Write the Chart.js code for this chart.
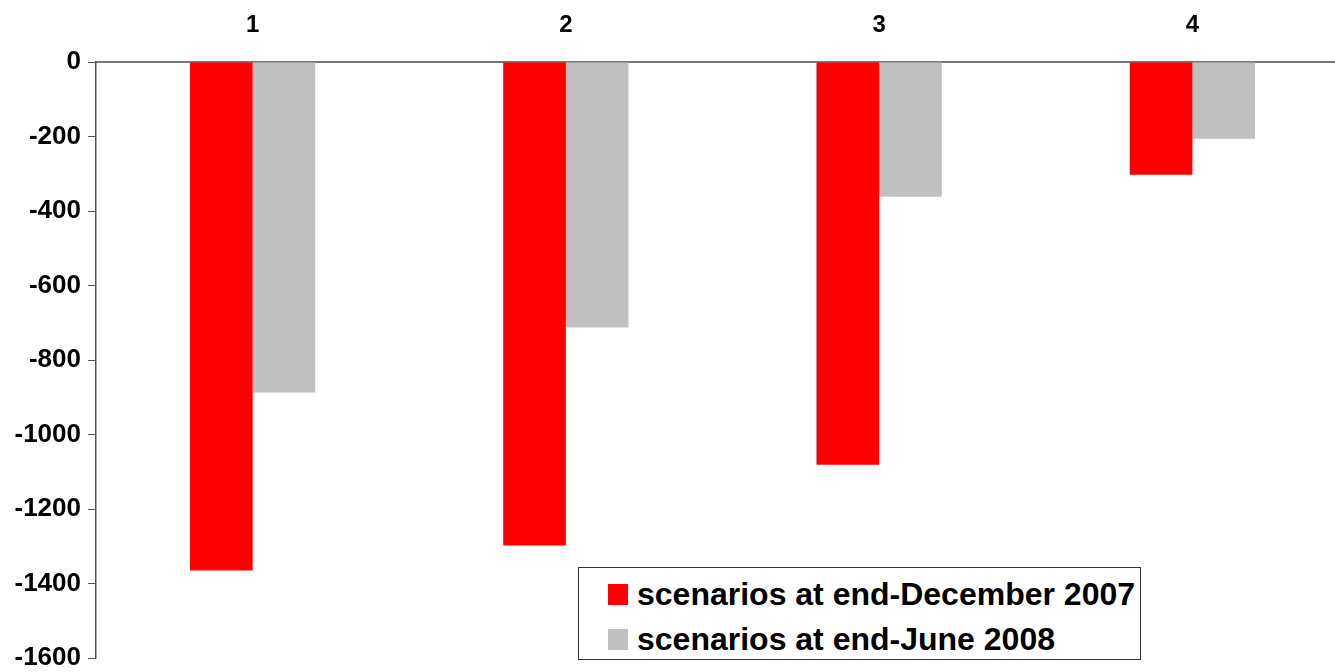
<!DOCTYPE html>
<html>
<head>
<meta charset="utf-8">
<script src="https://cdn.jsdelivr.net/npm/chart.js@4.4.1/dist/chart.umd.min.js"></script>
<style>
  html, body { margin: 0; padding: 0; background: #fff; overflow: hidden; }
  #wrap { position: relative; width: 1350px; height: 672px; }
  #legend {
    position: absolute; left: 578px; top: 567px; width: 561px; height: 91px;
    border: 1.5px solid #333; background: #fff; box-sizing: content-box;
    font-family: "Liberation Sans", Arial, sans-serif; font-weight: bold;
    font-size: 32px; color: #000;
  }
  #legend .item { position: absolute; left: 29px; height: 36px; display: flex; align-items: center; white-space: nowrap; }
  #legend .sw { width: 20px; height: 21px; margin-right: 9px; flex: none; }
</style>
</head>
<body>
<div id="wrap">
  <canvas id="c" width="1350" height="672"></canvas>
  <div id="legend"></div>
</div>
<script>
const categories = ["1", "2", "3", "4"];
const seriesNames = ["scenarios at end-December 2007", "scenarios at end-June 2008"];
const dec2007 = [-1365, -1298, -1081, -303];
const jun2008 = [-887, -713, -362, -206];
const yTicks = [0, -200, -400, -600, -800, -1000, -1200, -1400, -1600];
const seriesColors = ["#FF0000", "#C0C0C0"];

const font = { family: "'Liberation Sans', Arial, sans-serif", weight: "bold" };

const chart = new Chart(document.getElementById("c"), {
  type: "bar",
  data: {
    labels: categories,
    datasets: [
      { label: seriesNames[0], data: dec2007, backgroundColor: seriesColors[0] },
      { label: seriesNames[1], data: jun2008, backgroundColor: seriesColors[1] }
    ]
  },
  options: {
    responsive: false,
    animation: false,
    categoryPercentage: 0.4,
    barPercentage: 1.0,
    layout: { padding: { left: 0, right: 1, top: 0, bottom: 14 } },
    plugins: { legend: { display: false }, tooltip: { enabled: false } },
    scales: {
      x: {
        position: "top",
        grid: { display: false },
        border: { display: true, color: "#777", width: 2 },
        ticks: { color: "#000", font: { ...font, size: 24 }, padding: 14, maxRotation: 0 },
        afterFit: s => { s.height = 62; }
      },
      y: {
        min: Math.min(...yTicks),
        max: Math.max(...yTicks),
        afterBuildTicks: s => { s.ticks = yTicks.map(v => ({ value: v })); },
        grid: { display: true, drawOnChartArea: false, drawTicks: true, tickLength: 8, color: "#555" },
        border: { display: true, color: "#555", width: 1.5 },
        ticks: { color: "#000", font: { ...font, size: 26 }, padding: 7, callback: v => String(v) },
        afterFit: s => { s.width = 96; s.paddingTop = 0; s.paddingBottom = 0; }
      }
    }
  }
});

// Legend built from the chart's datasets
const legend = document.getElementById("legend");
chart.data.datasets.forEach((ds, i) => {
  const item = document.createElement("div");
  item.className = "item";
  item.style.top = (8 + i * 45) + "px";
  const sw = document.createElement("span");
  sw.className = "sw";
  sw.style.background = ds.backgroundColor;
  const txt = document.createElement("span");
  txt.textContent = ds.label;
  item.appendChild(sw);
  item.appendChild(txt);
  legend.appendChild(item);
});
</script>
</body>
</html>
